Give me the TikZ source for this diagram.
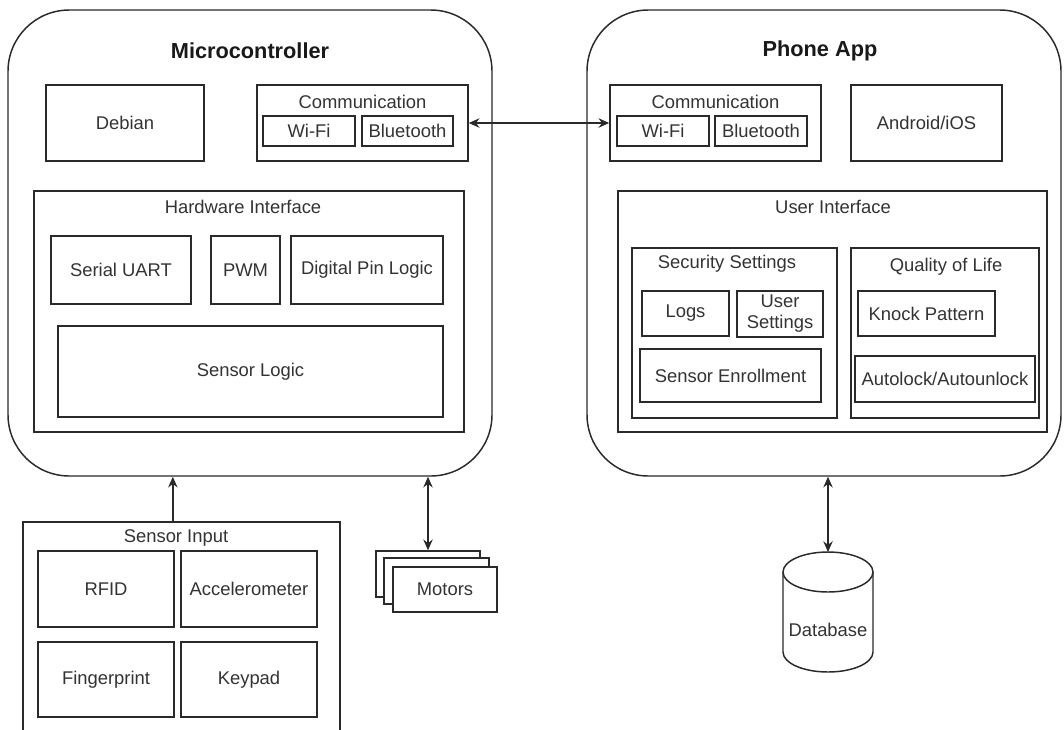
\documentclass[tikz,border=0pt]{standalone}
\usepackage{fontspec}
\setmainfont{Liberation Sans}
\usetikzlibrary{arrows.meta,calc}
\definecolor{ln}{HTML}{2A2A2A}
\definecolor{tx}{HTML}{333333}
\tikzset{
  base/.style={draw=ln, line width=1.1pt, fill=white, inner sep=0pt, text=tx,
    font=\fontsize{13.8}{15.8}\selectfont, align=center},
  lbl/.style={inner sep=0pt, text=tx, font=\fontsize{13.8}{15.8}\selectfont},
  ttl/.style={inner sep=0pt, text=black!90, font=\fontsize{16.3}{19}\selectfont\bfseries},
  big/.style={rounded corners=46pt},
  biarr/.style={draw=ln, line width=1.1pt, {Stealth[length=8pt,width=7pt]}-{Stealth[length=8pt,width=7pt]}},
  onearr/.style={draw=ln, line width=1.1pt, -{Stealth[length=8pt,width=7pt]}},
}
\newcommand\bx[7][]{\node[base,#1,minimum width={(#5-#3)*0.75pt},minimum height={(#6-#4)*0.75pt}] (#2) at ({(#3+#5)/2},{(#4+#6)/2}) {#7};}
\begin{document}
\begin{tikzpicture}[x=0.75pt,y=-0.75pt]
\useasboundingbox (0,0) rectangle (1064,729);
\clip (0,0) rectangle (1064,729);
% ---------- Microcontroller ----------
\bx[big]{mc}{8}{10}{492}{476}{}
\node[ttl] (mct) at (250,51) {Microcontroller};
\bx{deb}{46}{85}{204}{161}{Debian}
\bx{mcc}{257}{85}{468}{161}{}
\node[lbl] (mcct) at (362.5,102) {Communication};
\bx{mcw}{263}{116}{355}{146}{Wi-Fi}
\bx{mcb}{362}{116}{453}{146}{Bluetooth}
\bx{hw}{34}{191}{464}{432}{}
\node[lbl] (hwt) at (243,207) {Hardware Interface};
\bx{uart}{51}{236}{191}{304}{Serial UART}
\bx{pwm}{211}{236}{280}{304}{PWM}
\bx{dpl}{291}{236}{443}{304}{Digital Pin Logic}
\bx{sl}{58}{326}{443}{417}{Sensor Logic}
% ---------- Phone App ----------
\bx[big]{pa}{587}{10}{1061}{476}{}
\node[ttl] (pat) at (820,51) {Phone App};
\bx{pc}{610}{85}{821}{161}{}
\node[lbl] (pct) at (715.5,102) {Communication};
\bx{pcw}{617}{116}{709}{146}{Wi-Fi}
\bx{pcb}{715}{116}{807}{146}{Bluetooth}
\bx{andr}{851}{85}{1002}{161}{Android/iOS}
\bx{ui}{618}{191}{1047}{432}{}
\node[lbl] (uit) at (833,207) {User Interface};
\bx{sec}{632}{248}{837}{418}{}
\node[lbl] (sect) at (727,264) {Security Settings};
\bx{logs}{642}{291}{729}{336}{Logs}
\bx{us}{737}{291}{823}{337}{User\\Settings}
\bx{se}{640}{349}{821}{402}{Sensor Enrollment}
\bx{qol}{851}{248}{1039}{418}{}
\node[lbl] (qolt) at (946,267) {Quality of Life};
\bx{knock}{858}{291}{995}{336}{Knock Pattern}
\bx{auto}{855}{356}{1035}{402}{Autolock/Autounlock}
% ---------- Sensor Input ----------
\bx{si}{23}{522}{340}{770}{}
\node[lbl] (sit) at (176,538) {Sensor Input};
\bx{rfid}{38}{551}{174}{627}{RFID}
\bx{acc}{181}{551}{317}{627}{Accelerometer}
\bx{fp}{38}{642}{174}{717}{Fingerprint}
\bx{key}{181}{642}{317}{717}{Keypad}
% ---------- Motors ----------
\bx{mback}{376}{551}{480}{597}{}
\bx{mmid}{384}{558}{489}{604}{}
\bx{motors}{393}{567}{497}{612}{Motors}
% ---------- Database ----------
\coordinate (dbtop) at (828,552);
\draw[draw=ln, line width=1.1pt, fill=white] (783,572) -- (783,652)
  arc[start angle=180, end angle=360, x radius=33.75pt, y radius=15pt] -- (873,572);
\draw[draw=ln, line width=1.1pt, fill=white] (828,572) ellipse [x radius=33.75pt, y radius=15pt];
\node[lbl] (db) at (828,630) {Database};
% ---------- Connectors ----------
\draw[biarr] (mcc.east) -- (pc.west);
\draw[onearr] ([xshift=-6.5pt]si.north) -- ([xshift=-6.5pt]si.north |- mc.south);
\draw[biarr] (mback.north) -- (mback.north |- mc.south);
\draw[biarr] (dbtop) -- (dbtop |- pa.south);
\end{tikzpicture}
\end{document}
